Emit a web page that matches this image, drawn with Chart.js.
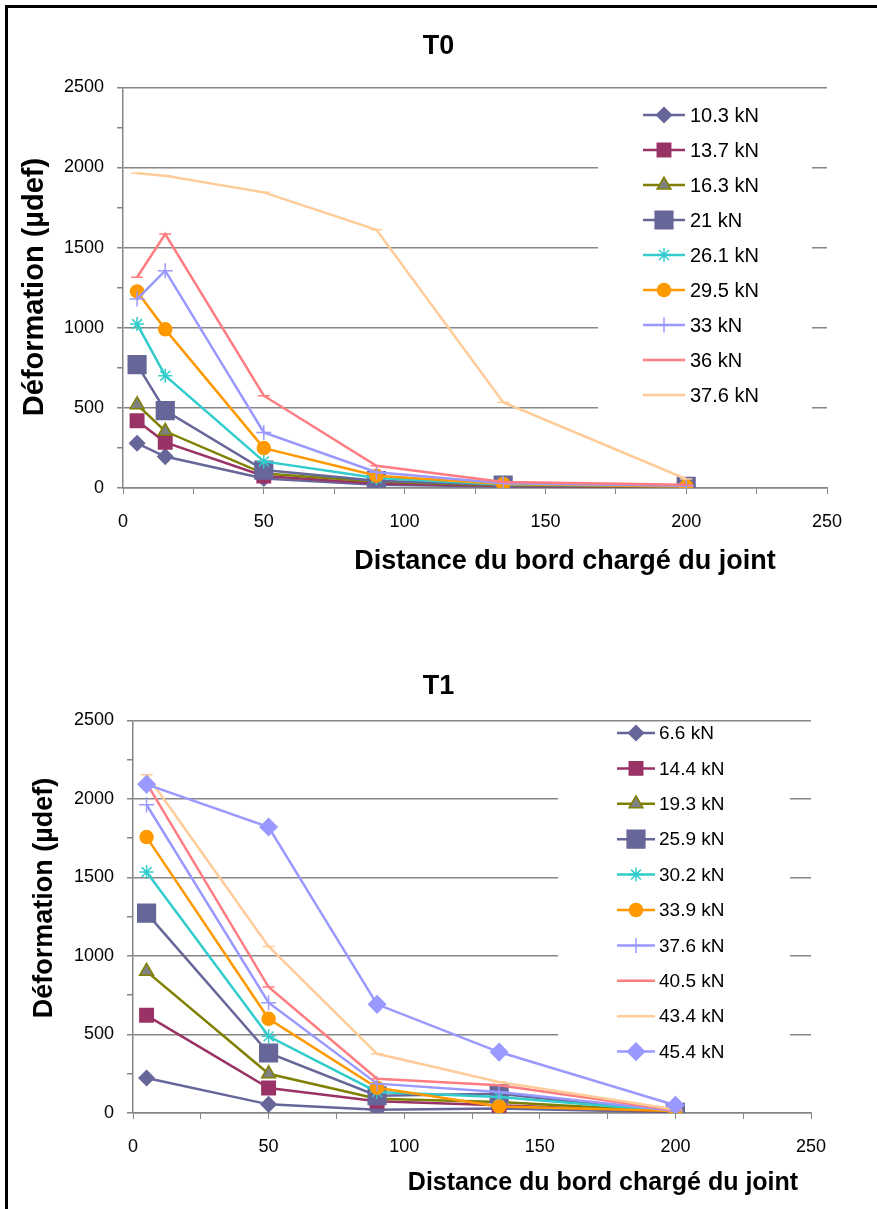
<!DOCTYPE html>
<html lang="fr">
<head>
  <meta charset="UTF-8" />
  <title>Déformation T0 / T1</title>
  <script src="https://cdn.jsdelivr.net/npm/chart.js"></script>
  <style>
    html, body {
      margin: 0;
      padding: 0;
      background: #fff;
      overflow: hidden;
    }
    body {
      width: 877px;
      height: 1209px;
      position: relative;
      font-family: 'Liberation Sans', Arial, sans-serif;
    }
    .frame {
      position: absolute;
      left: 5px;
      top: 5px;
      width: 900px;
      height: 1230px;
      border-top: 3px solid #000;
      border-left: 3px solid #000;
    }
    canvas {
      position: absolute;
      left: 0;
    }
    #c0 { top: 0; }
    #c1 { top: 600px; }
  </style>
</head>
<body>
  <div class="frame"></div>
  <canvas id="c0" width="877" height="600"></canvas>
  <canvas id="c1" width="877" height="609"></canvas>

  <script>
    // distances (x) and loads for the two tests
    const distT0 = [5, 15, 50, 90, 135, 200];
    const loadsT0 = ['10.3 kN', '13.7 kN', '16.3 kN', '21 kN', '26.1 kN', '29.5 kN', '33 kN', '36 kN', '37.6 kN'];
    const t0_10_3 = [279, 196, 60, 20, 10, 5];
    const t0_13_7 = [420, 285, 75, 28, 12, 6];
    const t0_16_3 = [520, 354, 90, 40, 15, 8];
    const t0_21 = [770, 483, 112, 46, 18, 10];
    const t0_26_1 = [1023, 701, 166, 62, 22, 12];
    const t0_29_5 = [1227, 990, 249, 77, 25, 10];
    const t0_33 = [1179, 1356, 347, 98, 30, 14];
    const t0_36 = [1315, 1585, 576, 139, 38, 20];
    const t0_37_6 = [1964, 1949, 1845, 1612, 535, 56];

    const distT1 = [5, 50, 90, 135, 200];
    const loadsT1 = ['6.6 kN', '14.4 kN', '19.3 kN', '25.9 kN', '30.2 kN', '33.9 kN', '37.6 kN', '40.5 kN', '43.4 kN', '45.4 kN'];
    const t1_6_6 = [223, 55, 21, 28, 5];
    const t1_14_4 = [622, 159, 75, 49, 8];
    const t1_19_3 = [902, 250, 91, 70, 10];
    const t1_25_9 = [1273, 382, 110, 123, 5];
    const t1_30_2 = [1534, 488, 134, 102, 10];
    const t1_33_9 = [1757, 600, 161, 42, 12];
    const t1_37_6 = [1963, 702, 187, 134, 15];
    const t1_40_5 = [2100, 802, 218, 176, 18];
    const t1_43_4 = [2154, 1061, 377, 197, 22];
    const t1_45_4 = [2093, 1821, 692, 388, 49];

    const yTicks = [0, 500, 1000, 1500, 2000, 2500];
    const xTicks = [0, 50, 100, 150, 200, 250];

    // excel-like series look
    const styleT0 = [
      { c: '#666699', f: '#666699', p: 'rectRot', r: 7.5 },
      { c: '#993366', f: '#993366', p: 'rect', r: 9.5 },
      { c: '#808000', f: '#808080', p: 'triangle', r: 8 },
      { c: '#666699', f: '#666699', p: 'rect', r: 12.5 },
      { c: '#33CCCC', f: '#33CCCC', p: 'star', r: 7 },
      { c: '#FF9900', f: '#FF9900', p: 'circle', r: 6.5 },
      { c: '#9999FF', f: '#9999FF', p: 'cross', r: 7.5 },
      { c: '#FF7C80', f: '#FF7C80', p: 'line', r: 6 },
      { c: '#FFCC99', f: '#FFCC99', p: 'line', r: 6 }
    ];
    const styleT1 = styleT0.concat([{ c: '#9999FF', f: '#9999FF', p: 'rectRot', r: 8.5 }]);

    const FONT = "'Liberation Sans', Arial, sans-serif";

    function makeDatasets(labels, dist, series, styles) {
      return series.map((vals, i) => ({
        label: labels[i],
        data: vals.map((v, k) => ({ x: dist[k], y: v })),
        borderColor: styles[i].c,
        backgroundColor: styles[i].c,
        borderWidth: 2.5,
        pointStyle: styles[i].p,
        pointRadius: styles[i].r,
        pointHoverRadius: styles[i].r,
        pointBackgroundColor: styles[i].f,
        pointBorderColor: styles[i].c,
        pointBorderWidth: 1.5,
        tension: 0,
        fill: false,
        order: -i
      }));
    }

    // legend drawn like Excel: line + marker, over a white box hiding the grid
    const excelLegend = {
      id: 'excelLegend',
      beforeDatasetsDraw(chart, args, o) {
        const ctx = chart.ctx;
        ctx.save();
        ctx.fillStyle = '#fff';
        ctx.fillRect(o.box[0], o.box[1], o.box[2], o.box[3]);
        ctx.restore();
      },
      afterDraw(chart, args, o) {
        const ctx = chart.ctx;
        chart.data.datasets.forEach((ds, i) => {
          const y = o.top + i * o.rowH;
          const mx = (o.x0 + o.x1) / 2;
          ctx.save();
          ctx.strokeStyle = ds.borderColor;
          ctx.lineWidth = ds.borderWidth;
          ctx.beginPath();
          ctx.moveTo(o.x0, y);
          ctx.lineTo(o.x1, y);
          ctx.stroke();
          ctx.fillStyle = ds.pointBackgroundColor;
          ctx.strokeStyle = ds.pointBorderColor;
          ctx.lineWidth = ds.pointBorderWidth;
          Chart.helpers.drawPoint(ctx, {
            pointStyle: ds.pointStyle, radius: ds.pointRadius, rotation: 0, borderWidth: ds.pointBorderWidth
          }, mx, y);
          ctx.fillStyle = '#000';
          ctx.font = o.fontSize + 'px ' + FONT;
          ctx.textBaseline = 'middle';
          ctx.textAlign = 'left';
          ctx.fillText(ds.label, o.textX, y + 1);
          ctx.restore();
        });
      }
    };

    // axis titles placed where Excel put them
    const axisTitles = {
      id: 'axisTitles',
      afterDraw(chart, args, o) {
        const ctx = chart.ctx;
        ctx.save();
        ctx.fillStyle = '#000';
        ctx.textAlign = 'center';
        ctx.textBaseline = 'middle';
        ctx.font = 'bold ' + o.xSize + 'px ' + FONT;
        ctx.fillText(o.xText, o.xPos[0], o.xPos[1]);
        ctx.translate(o.yPos[0], o.yPos[1]);
        ctx.rotate(-Math.PI / 2);
        ctx.font = 'bold ' + o.ySize + 'px ' + FONT;
        ctx.fillText(o.yText, 0, 0);
        ctx.restore();
      }
    };

    function makeChart(id, cfg) {
      return new Chart(document.getElementById(id), {
        type: 'line',
        data: { datasets: cfg.datasets },
        plugins: [excelLegend, axisTitles],
        options: {
          responsive: false,
          animation: false,
          events: [],
          layout: { padding: 0 },
          plugins: {
            legend: { display: false },
            tooltip: { enabled: false },
            title: {
              display: true,
              text: cfg.title,
              color: '#000',
              font: { family: FONT, size: 27, weight: 'bold' },
              padding: cfg.titlePad
            },
            excelLegend: cfg.legend,
            axisTitles: cfg.axisTitles
          },
          scales: {
            x: {
              type: 'linear',
              min: xTicks[0],
              max: xTicks[xTicks.length - 1],
              afterBuildTicks: s => {
                const t = [];
                for (let v = xTicks[0]; v <= xTicks[xTicks.length - 1]; v += 25) t.push({ value: v });
                s.ticks = t;
              },
              afterFit: s => { s.height = cfg.xHeight; },
              ticks: {
                autoSkip: false,
                maxRotation: 0,
                padding: 17,
                color: '#000',
                font: { family: FONT, size: cfg.tickSize },
                callback: v => xTicks.includes(v) ? v : ''
              },
              grid: { drawOnChartArea: false, drawTicks: true, tickLength: 6, tickColor: '#868686' },
              border: { display: true, color: '#868686', width: 1.5 }
            },
            y: {
              min: yTicks[0],
              max: yTicks[yTicks.length - 1],
              afterBuildTicks: s => {
                const t = [];
                for (let v = yTicks[0]; v <= yTicks[yTicks.length - 1]; v += 250) t.push({ value: v });
                s.ticks = t;
              },
              afterFit: s => { s.width = cfg.yWidth; },
              ticks: {
                autoSkip: false,
                padding: 13,
                color: '#000',
                font: { family: FONT, size: cfg.tickSize },
                callback: v => yTicks.includes(v) ? v : ''
              },
              grid: {
                color: c => (c.tick && yTicks.includes(c.tick.value)) ? '#868686' : 'rgba(0,0,0,0)',
                lineWidth: 1.5,
                drawTicks: true,
                tickLength: 6,
                tickColor: '#868686'
              },
              border: { display: true, color: '#868686', width: 1.5 }
            },
            yRight: {
              position: 'right',
              display: true,
              grid: { display: false },
              ticks: { display: false },
              border: { display: false },
              afterFit: s => { s.width = cfg.rightGap; }
            }
          }
        }
      });
    }

    makeChart('c0', {
      title: 'T0',
      titlePad: { top: 30, bottom: 25 },
      xHeight: 112,
      yWidth: 123,
      rightGap: 50,
      tickSize: 18,
      datasets: makeDatasets(loadsT0, distT0,
        [t0_10_3, t0_13_7, t0_16_3, t0_21, t0_26_1, t0_29_5, t0_33, t0_36, t0_37_6], styleT0),
      legend: { box: [598, 95, 214, 320], top: 115, rowH: 35, x0: 643, x1: 685, textX: 690, fontSize: 20 },
      axisTitles: {
        xText: 'Distance du bord chargé du joint', xPos: [565, 562], xSize: 27,
        yText: 'Déformation (µdef)', yPos: [35, 287], ySize: 29
      }
    });

    makeChart('c1', {
      title: 'T1',
      titlePad: { top: 70, bottom: 18 },
      xHeight: 96,
      yWidth: 133,
      rightGap: 66,
      tickSize: 18,
      datasets: makeDatasets(loadsT1, distT1,
        [t1_6_6, t1_14_4, t1_19_3, t1_25_9, t1_30_2, t1_33_9, t1_37_6, t1_40_5, t1_43_4, t1_45_4], styleT1),
      legend: { box: [558, 125, 232, 345], top: 133, rowH: 35.4, x0: 617, x1: 655, textX: 659, fontSize: 19 },
      axisTitles: {
        xText: 'Distance du bord chargé du joint', xPos: [603, 583], xSize: 25,
        yText: 'Déformation (µdef)', yPos: [45, 298], ySize: 27
      }
    });
  </script>
</body>
</html>
